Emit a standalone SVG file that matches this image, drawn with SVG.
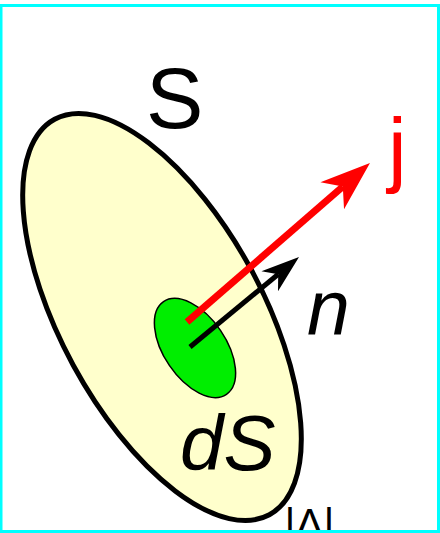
<svg xmlns="http://www.w3.org/2000/svg" width="440" height="533" viewBox="0 0 440 533">
<style>
.lbl{font-family:"Liberation Sans",Arial,sans-serif;}
.it{font-style:italic;}
</style>
<defs>
<marker id="headRed" markerUnits="userSpaceOnUse" orient="auto" refX="0" refY="0" markerWidth="60" markerHeight="60" overflow="visible">
<path d="M36,0 L-14,-18 L0,0 L-14,18 Z" fill="#ff0000"/>
</marker>
<marker id="headBlack" markerUnits="userSpaceOnUse" orient="auto" refX="0" refY="0" markerWidth="60" markerHeight="60" overflow="visible">
<path d="M27,0 L-11,-13 L0,0 L-11,13 Z" fill="#000000"/>
</marker>
</defs>
<rect x="0" y="0" width="440" height="533" fill="#ffffff"/>
<g id="surface">
<ellipse cx="162" cy="317" rx="225" ry="101" transform="rotate(61.5 162 317)" fill="#ffffcc" stroke="#000" stroke-width="5"/>
</g>
<g id="dS-patch">
<ellipse cx="195" cy="348" rx="56" ry="31" transform="rotate(55.8 195 348)" fill="#00ee00" stroke="#000" stroke-width="1.5"/>
</g>
<g id="connectors">
<line x1="187" y1="322" x2="342.8" y2="186.6" stroke="#ff0000" stroke-width="7" marker-end="url(#headRed)"/>
<line x1="190" y1="347" x2="278.2" y2="274.2" stroke="#000" stroke-width="5" marker-end="url(#headBlack)"/>
</g>
<g id="labels">
<text class="lbl" x="146" y="128" font-size="86" fill="#000">S</text>
<text class="lbl" x="388" y="177" font-size="84" fill="#ff0000">j</text>
<text class="lbl it" x="307" y="335" font-size="77" fill="#000">n</text>
<text class="lbl it" x="180" y="470" font-size="78" fill="#000">dS</text>
<text class="lbl" x="284.5" y="538" font-size="42" fill="#000">|Λ|</text>
</g>
<rect x="1" y="5.5" width="437.5" height="526" fill="none" stroke="#00ffff" stroke-width="3"/>
</svg>
